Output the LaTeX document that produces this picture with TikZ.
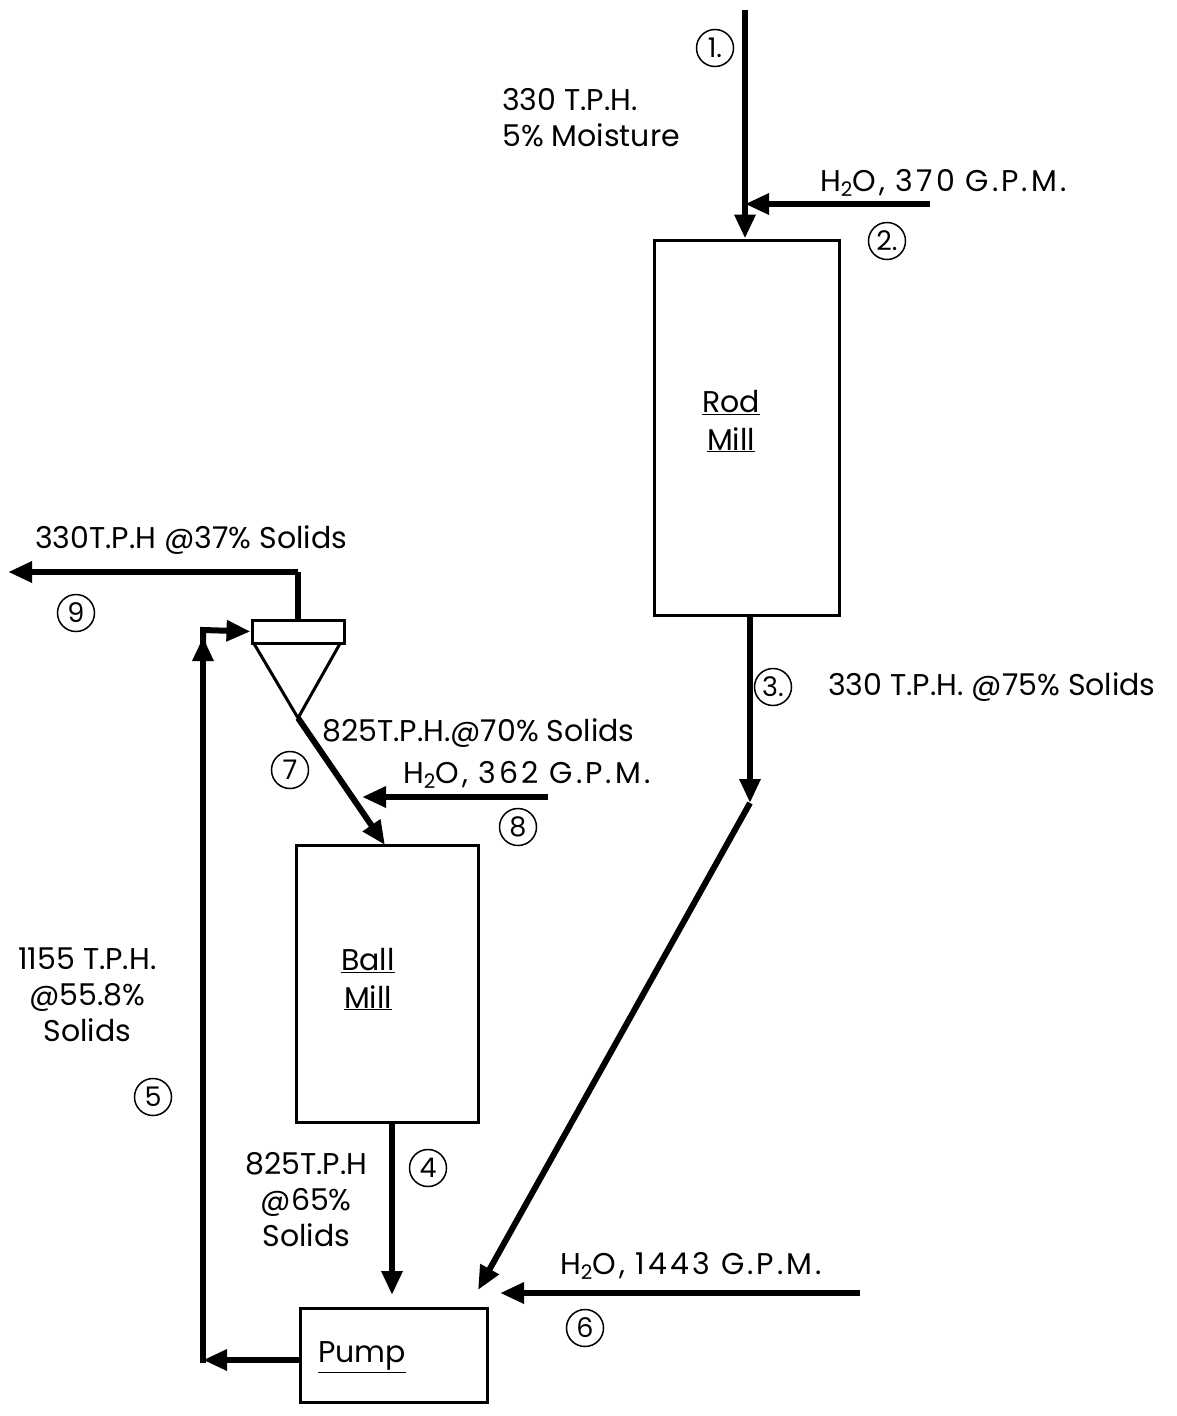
\documentclass[tikz,border=0pt]{standalone}
\usepackage{fontspec}
\setmainfont{Poppins}
\usetikzlibrary{arrows.meta,calc}
\newcommand{\wsub}[1]{{\fontsize{20}{20}\selectfont\raisebox{-5pt}{#1}}}
\tikzset{
  box/.style={draw, line width=3pt, rectangle, inner sep=0pt},
  flow/.style={line width=6pt, -{Triangle[length=24pt,width=20pt]}},
  pipe/.style={line width=6pt},
  num/.style={draw, circle, line width=1.5pt, minimum size=37pt, inner sep=0pt, font=\fontsize{27}{27}\selectfont},
  lbl/.style={font=\fontsize{30}{36}\selectfont, inner sep=0pt, align=left},
  wlbl/.style={font=\fontsize{30}{36}\selectfont\addfontfeature{LetterSpace=10}, inner sep=0pt, align=left},
  unit/.style={font=\fontsize{30}{38}\selectfont, inner sep=0pt, align=center},
}
\begin{document}
\begin{tikzpicture}[x=1pt,y=-1pt]
\useasboundingbox (0,0) rectangle (1177,1416);
% units
\node[box, minimum width=185pt, minimum height=375pt] (rod) at (746.5,427.5) {};
\node[unit] (rodt) at (731,421) {\underline{Rod}\\\underline{Mill}};
\node[box, minimum width=182pt, minimum height=277pt] (ball) at (387,983.5) {};
\node[unit] (ballt) at (368,979) {\underline{Ball}\\\underline{Mill}};
\node[box, minimum width=187pt, minimum height=94pt] (pump) at (393.5,1355) {};
\node[unit] (pumpt) at (362,1357) {\underline{Pump}};
\node[box, minimum width=92pt, minimum height=23pt] (cycl) at (298,631.5) {};
\coordinate (apex) at (298,718);
\draw[line width=3pt, line join=round] (cycl.south west) ++(4,0) -- (apex) -- ($(cycl.south east)+(-6,0)$);
% coordinates
\coordinate (in1) at (745,10);
\coordinate (w2) at (930,204);
\coordinate (bend) at (750,803);
\coordinate (end3) at (478,1290);
\coordinate (w6) at (860,1293);
\coordinate (end6) at (500,1293);
\coordinate (w8) at (548,797);
\coordinate (end8) at (362,797);
\coordinate (end7) at (385,845);
\coordinate (o9a) at (298,572);
\coordinate (o9b) at (8,572);
\coordinate (c5a) at (203,1360);
\coordinate (c5b) at (203,630);
\coordinate (c5up) at (203,637);
% streams
\draw[flow] (in1) -- (in1 |- rod.north);
\draw[flow] (w2) -- (in1 |- w2);
\draw[flow] (bend |- rod.south) -- (bend);
\draw[flow] (bend) -- (end3);
\draw[flow] (ball.south -| 392,0) -- (392,1295);
\draw[flow] (w6) -- (end6);
\draw[flow] (pump.west |- c5a) -- (c5a);
\draw[flow] ($(c5a)+(0,3)$) -- (c5up);
\draw[flow] (203,646) -- (c5b) -- (cycl.west);
\draw[flow] (apex) -- (end7);
\draw[flow] (w8) -- (end8);
\draw[pipe] (cycl.north) -- (o9a);
\draw[flow] (o9a) -- (o9b);
% numbers
\node[num] (n1) at (715,48) {1.};
\node[num] (n2) at (887,241) {2.};
\node[num] (n3) at (773,687) {3.};
\node[num] (n4) at (428,1168) {4};
\node[num] (n5) at (153,1097) {5};
\node[num] (n6) at (585,1328) {6};
\node[num] (n7) at (290,770) {7};
\node[num] (n8) at (518,827) {8};
\node[num] (n9) at (76,613) {9};
% labels
\node[lbl, anchor=west] (t1) at (502,118) {330 T.P.H.\\5\% Moisture};
\node[wlbl, anchor=west] (t2) at (820,183) {H\wsub{2}O, 370 G.P.M.};
\node[lbl, anchor=west] (t3) at (828,687) {330 T.P.H. @75\% Solids};
\node[lbl, anchor=west] (t9) at (35,540) {330T.P.H @37\% Solids};
\node[lbl, anchor=west] (t7) at (322,733) {825T.P.H.@70\% Solids};
\node[wlbl, anchor=west] (t8) at (403,775) {H\wsub{2}O, 362 G.P.M.};
\node[lbl, anchor=west, align=center] (t5) at (18,995) {1155 T.P.H.\\@55.8\%\\Solids};
\node[lbl, anchor=west, align=center] (t4) at (245,1200) {825T.P.H\\@65\%\\Solids};
\node[wlbl, anchor=west] (t6) at (560,1266) {H\wsub{2}O, 1443 G.P.M.};
\end{tikzpicture}
\end{document}
